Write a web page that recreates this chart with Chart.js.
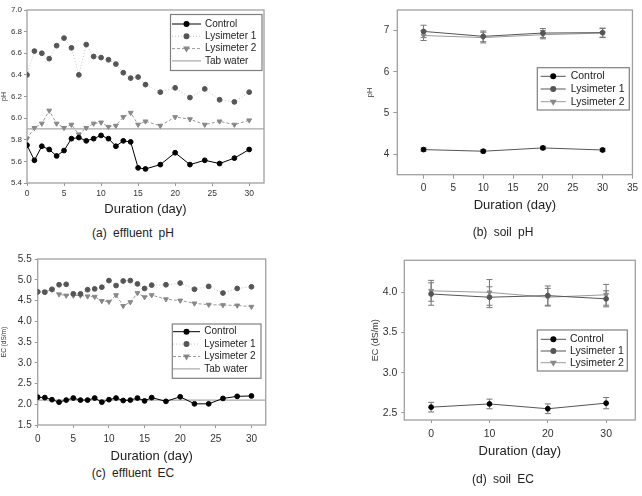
<!DOCTYPE html>
<html><head><meta charset="utf-8">
<script src="https://cdn.jsdelivr.net/npm/chart.js@4/dist/chart.umd.min.js"></script>
<style>
html,body{margin:0;padding:0;background:#fff;}
body{width:642px;height:496px;position:relative;overflow:hidden;font-family:'Liberation Sans',Arial,sans-serif;}
canvas{position:absolute;}
.cap{position:absolute;font-size:12px;color:#222;white-space:pre;transform:translate(-50%,-50%);word-spacing:3px;}
</style></head><body>
<canvas id="ca" width="330" height="217" style="left:0;top:0"></canvas>
<canvas id="cb" width="322" height="213" style="left:320px;top:0"></canvas>
<canvas id="cc" width="330" height="214" style="left:0;top:250px"></canvas>
<canvas id="cd" width="322" height="209" style="left:320px;top:250px"></canvas>
<div class="cap" style="left:133px;top:233px">(a) effluent pH</div>
<div class="cap" style="left:503px;top:232px">(b) soil pH</div>
<div class="cap" style="left:133px;top:473px">(c) effluent EC</div>
<div class="cap" style="left:503px;top:479px">(d) soil EC</div>
<script>
// ---------- data ----------
const seriesNames = ['Control', 'Lysimeter 1', 'Lysimeter 2', 'Tab water'];
const effluentDays = [0,1,2,3,4,5,6,7,8,9,10,11,12,13,14,15,16,18,20,22,24,26,28,30];
const effluentPhControl = [5.75,5.61,5.74,5.71,5.65,5.70,5.81,5.82,5.79,5.81,5.84,5.81,5.74,5.79,5.78,5.54,5.53,5.57,5.68,5.57,5.61,5.58,5.63,5.71];
const effluentPhLys1    = [6.40,6.62,6.60,6.55,6.67,6.74,6.65,6.40,6.68,6.57,6.56,6.54,6.50,6.42,6.37,6.38,6.31,6.24,6.28,6.19,6.27,6.17,6.15,6.24];
const effluentPhLys2    = [5.81,5.91,5.95,6.07,5.95,5.91,5.94,5.85,5.91,5.95,5.96,5.92,5.93,6.01,6.05,5.94,5.97,5.93,6.01,5.99,5.94,5.97,5.94,5.98];
const tapWaterPh = 5.9;
const effluentEcControl = [2.17,2.16,2.11,2.05,2.10,2.15,2.10,2.10,2.15,2.05,2.11,2.15,2.09,2.10,2.15,2.08,2.16,2.07,2.18,2.01,2.01,2.14,2.19,2.20];
const effluentEcLys1    = [4.71,4.70,4.77,4.88,4.89,4.66,4.66,4.76,4.78,4.82,4.98,4.86,4.97,4.98,4.90,4.79,4.87,4.88,4.92,4.77,4.84,4.68,4.79,4.83];
const effluentEcLys2    = [4.70,4.71,4.76,4.65,4.62,4.62,4.62,4.60,4.59,4.49,4.47,4.63,4.37,4.46,4.68,4.58,4.63,4.53,4.50,4.43,4.40,4.39,4.38,4.35];
const tapWaterEc = 2.1;

const soilDays = [0,10,20,30];
const soilPhControl = [4.11,4.07,4.15,4.10];
const soilPhControlErr = [0.04,0.04,0.04,0.04];
const soilPhLys1 = [6.98,6.86,6.94,6.95];
const soilPhLys1Err = [0.15,0.13,0.11,0.11];
const soilPhLys2 = [6.88,6.83,6.90,6.94];
const soilPhLys2Err = [0.12,0.13,0.10,0.11];
const soilEcControl = [2.57,2.61,2.55,2.62];
const soilEcControlErr = [0.06,0.06,0.06,0.07];
const soilEcLys1 = [3.98,3.94,3.96,3.92];
const soilEcLys1Err = [0.14,0.13,0.12,0.10];
const soilEcLys2 = [4.02,4.00,3.94,3.97];
const soilEcLys2Err = [0.13,0.16,0.11,0.13];

const effluentXTicks = [0,5,10,15,20,25,30];
const soilPhXTicks = [0,5,10,15,20,25,30,35];
const soilEcXTicks = [0,10,20,30];
const effluentPhYTicks = [5.4,5.6,5.8,6.0,6.2,6.4,6.6,6.8,7.0];
const soilPhYTicks = [4,5,6,7];
const effluentEcYTicks = [1.5,2.0,2.5,3.0,3.5,4.0,4.5,5.0,5.5];
const soilEcYTicks = [2.5,3.0,3.5,4.0];
const xTitle = 'Duration (day)';

// ---------- helpers ----------
Chart.defaults.font.family = "'Liberation Sans', Arial, sans-serif";
Chart.defaults.color = '#333';

const pts = (xs, ys) => xs.map((x, i) => ({x: x, y: ys[i]}));

const framePlugin = {
  id: 'frame',
  beforeDatasetsDraw(chart) {
    const {ctx, chartArea: a} = chart;
    ctx.save();
    ctx.strokeStyle = '#a0a0a0';
    ctx.lineWidth = 1.3;
    ctx.strokeRect(a.left, a.top, a.right - a.left, a.bottom - a.top);
    ctx.restore();
  }
};

const errorBarPlugin = {
  id: 'errorBars',
  beforeDatasetsDraw(chart) {
    const {ctx, scales: {x, y}} = chart;
    chart.data.datasets.forEach(ds => {
      if (!ds.errorBars) return;
      ctx.save();
      ctx.strokeStyle = ds.errorColor || '#777';
      ctx.lineWidth = 1;
      ds.data.forEach((p, j) => {
        const e = ds.errorBars[j];
        const px = x.getPixelForValue(p.x);
        const y0 = y.getPixelForValue(p.y - e), y1 = y.getPixelForValue(p.y + e);
        const c = 3;
        ctx.beginPath();
        ctx.moveTo(px, y0); ctx.lineTo(px, y1);
        ctx.moveTo(px - c, y0); ctx.lineTo(px + c, y0);
        ctx.moveTo(px - c, y1); ctx.lineTo(px + c, y1);
        ctx.stroke();
      });
      ctx.restore();
    });
  }
};

const boxLegendPlugin = {
  id: 'boxLegend',
  afterDraw(chart, args, o) {
    if (!o || !o.box) return;
    const ctx = chart.ctx;
    const b = o.box;
    ctx.save();
    ctx.fillStyle = '#fff';
    ctx.fillRect(b.x, b.y, b.w, b.h);
    ctx.strokeStyle = '#808080';
    ctx.lineWidth = 1.2;
    ctx.strokeRect(b.x, b.y, b.w, b.h);
    chart.data.datasets.forEach((ds, i) => {
      const yy = o.firstRow + i * o.rowGap;
      ctx.save();
      ctx.strokeStyle = ds.borderColor;
      ctx.lineWidth = ds.borderWidth || 1;
      ctx.setLineDash(ds.borderDash || []);
      ctx.beginPath();
      ctx.moveTo(o.x0, yy); ctx.lineTo(o.x1, yy);
      ctx.stroke();
      ctx.restore();
      if (ds.pointRadius > 0) {
        ctx.save();
        ctx.fillStyle = ds.pointBackgroundColor;
        ctx.strokeStyle = ds.pointBorderColor;
        Chart.helpers.drawPoint(ctx, {pointStyle: ds.pointStyle, rotation: ds.pointRotation || 0, radius: ds.pointRadius, borderWidth: 1}, (o.x0 + o.x1) / 2, yy);
        ctx.restore();
      }
      ctx.fillStyle = '#222';
      ctx.font = o.fontSize + "px 'Liberation Sans', Arial, sans-serif";
      ctx.textBaseline = 'middle';
      ctx.textAlign = 'left';
      ctx.fillText(ds.label, o.textX, yy);
    });
    ctx.restore();
  }
};

function styleControl(soil) {
  return {pointStyle: 'circle', pointRadius: 2.4, pointBackgroundColor: '#000', pointBorderColor: '#000',
    borderColor: soil ? '#555' : '#000', borderWidth: 1};
}
function styleLys1(soil) {
  return {pointStyle: 'circle', pointRadius: 2.4, pointBackgroundColor: '#555', pointBorderColor: '#555',
    borderColor: soil ? '#555' : '#c4c4c4', borderWidth: 1, borderDash: soil ? [] : [1, 2]};
}
function styleLys2(soil) {
  return {pointStyle: 'triangle', pointRotation: 180, pointRadius: 2.8, pointBackgroundColor: '#888', pointBorderColor: '#888',
    borderColor: soil ? '#9a9a9a' : '#999', borderWidth: 1, borderDash: soil ? [] : [3, 2]};
}
function styleTap() {
  return {pointRadius: 0, borderColor: '#a8a8a8', borderWidth: 1.2};
}

function makeChart(id, cfg) {
  const ctx = document.getElementById(id);
  return new Chart(ctx, {
    type: 'line',
    data: {datasets: cfg.datasets},
    plugins: [framePlugin, errorBarPlugin, boxLegendPlugin],
    options: {
      responsive: false, animation: false, devicePixelRatio: 1,
      layout: {padding: cfg.padding},
      elements: {line: {tension: 0, fill: false}},
      plugins: {legend: {display: false}, tooltip: {enabled: false}, boxLegend: cfg.legend},
      scales: {
        x: {
          type: 'linear', min: cfg.xMin, max: cfg.xMax,
          afterBuildTicks: s => { s.ticks = cfg.xTicks.map(v => ({value: v})); },
          afterFit: s => { s.height = cfg.xHeight; },
          grid: {display: true, drawOnChartArea: false, drawTicks: true, tickLength: cfg.tl, color: '#999'},
          border: {display: false},
          ticks: {autoSkip: false, maxRotation: 0, padding: cfg.xPad, font: {size: cfg.xFont}, color: '#333'},
          title: {display: true, text: xTitle, font: {size: 13}, color: '#222', padding: 0}
        },
        y: {
          type: 'linear', min: cfg.yMin, max: cfg.yMax,
          afterBuildTicks: s => { s.ticks = cfg.yTicks.map(v => ({value: v})); },
          afterFit: s => { s.width = cfg.yWidth; },
          grid: {display: true, drawOnChartArea: false, drawTicks: true, tickLength: cfg.tl, color: '#999'},
          border: {display: false},
          ticks: {padding: cfg.yPad, font: {size: cfg.yFont}, color: '#333',
            callback: v => v.toFixed(cfg.yDec)},
          title: {display: true, text: cfg.yTitle, font: {size: cfg.yTitleFont}, color: '#333', padding: 0}
        }
      }
    }
  });
}

// (a) effluent pH
makeChart('ca', {
  datasets: [
    Object.assign({label: seriesNames[0], data: pts(effluentDays, effluentPhControl)}, styleControl(false)),
    Object.assign({label: seriesNames[1], data: pts(effluentDays, effluentPhLys1)}, styleLys1(false)),
    Object.assign({label: seriesNames[2], data: pts(effluentDays, effluentPhLys2)}, styleLys2(false)),
    Object.assign({label: seriesNames[3], data: [{x: 0, y: tapWaterPh}, {x: 32, y: tapWaterPh}]}, styleTap())
  ],
  padding: {left: 0, top: 10, right: 66, bottom: 0},
  xMin: 0, xMax: 32, yMin: 5.4, yMax: 7.0, xTicks: effluentXTicks, yTicks: effluentPhYTicks, yDec: 1,
  xHeight: 34, yWidth: 27, tl: 3, xPad: 3, yPad: 2, xFont: 8.5, yFont: 8, yTitle: 'pH', yTitleFont: 7,
  legend: {box: {x: 170.5, y: 14.5, w: 91.5, h: 56}, firstRow: 24, rowGap: 12.3, x0: 172, x1: 201, textX: 205, fontSize: 10}
});

// (b) soil pH
makeChart('cb', {
  datasets: [
    Object.assign({label: seriesNames[0], data: pts(soilDays, soilPhControl), errorBars: soilPhControlErr}, styleControl(true)),
    Object.assign({label: seriesNames[1], data: pts(soilDays, soilPhLys1), errorBars: soilPhLys1Err}, styleLys1(true)),
    Object.assign({label: seriesNames[2], data: pts(soilDays, soilPhLys2), errorBars: soilPhLys2Err}, styleLys2(true))
  ],
  padding: {left: 45, top: 7.3, right: 9.3, bottom: 0},
  xMin: -4.4, xMax: 35, yMin: 3.5, yMax: 7.5, xTicks: soilPhXTicks, yTicks: soilPhYTicks, yDec: 0,
  xHeight: 38.3, yWidth: 32.3, tl: 4, xPad: 4, yPad: 4, xFont: 10, yFont: 10, yTitle: 'pH', yTitleFont: 7.5,
  legend: {box: {x: 217.3, y: 67.7, w: 92, h: 42.3}, firstRow: 76.3, rowGap: 12.7, x0: 220.7, x1: 245.7, textX: 250.7, fontSize: 10.5}
});

// (c) effluent EC
makeChart('cc', {
  datasets: [
    Object.assign({label: seriesNames[0], data: pts(effluentDays, effluentEcControl)}, styleControl(false)),
    Object.assign({label: seriesNames[1], data: pts(effluentDays, effluentEcLys1)}, styleLys1(false)),
    Object.assign({label: seriesNames[2], data: pts(effluentDays, effluentEcLys2)}, styleLys2(false)),
    Object.assign({label: seriesNames[3], data: [{x: 0, y: tapWaterEc}, {x: 32, y: tapWaterEc}]}, styleTap())
  ],
  padding: {left: 0, top: 9, right: 64.3, bottom: 0},
  xMin: 0, xMax: 32, yMin: 1.5, yMax: 5.5, xTicks: effluentXTicks, yTicks: effluentEcYTicks, yDec: 1,
  xHeight: 39, yWidth: 37.7, tl: 3, xPad: 5, yPad: 3, xFont: 10, yFont: 10, yTitle: 'EC (dS/m)', yTitleFont: 6.5,
  legend: {box: {x: 172.3, y: 74, w: 88.7, h: 54.3}, firstRow: 81.7, rowGap: 12.4, x0: 173, x1: 200, textX: 204.3, fontSize: 10}
});

// (d) soil EC
makeChart('cd', {
  datasets: [
    Object.assign({label: seriesNames[0], data: pts(soilDays, soilEcControl), errorBars: soilEcControlErr}, styleControl(true)),
    Object.assign({label: seriesNames[1], data: pts(soilDays, soilEcLys1), errorBars: soilEcLys1Err}, styleLys1(true)),
    Object.assign({label: seriesNames[2], data: pts(soilDays, soilEcLys2), errorBars: soilEcLys2Err}, styleLys2(true))
  ],
  padding: {left: 50, top: 8.3, right: 6.7, bottom: 0},
  xMin: -4.6, xMax: 35, yMin: 2.41, yMax: 4.4, xTicks: soilEcXTicks, yTicks: soilEcYTicks, yDec: 1,
  xHeight: 39, yWidth: 34.3, tl: 3, xPad: 5, yPad: 4, xFont: 10.5, yFont: 10.5, yTitle: 'EC (dS/m)', yTitleFont: 9,
  legend: {box: {x: 217.3, y: 80, w: 90, h: 41}, firstRow: 89.3, rowGap: 11.7, x0: 220.7, x1: 246, textX: 250, fontSize: 10.5}
});
</script>
</body></html>
